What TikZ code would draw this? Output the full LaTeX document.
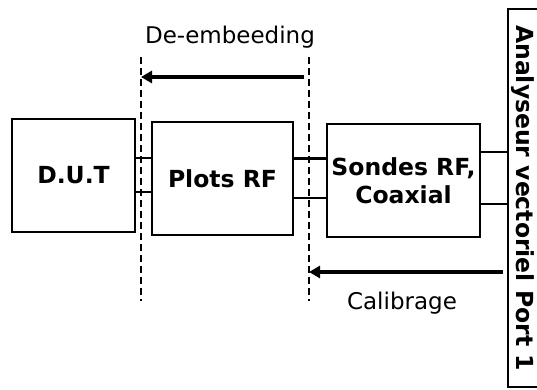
\documentclass[tikz,border=0pt]{standalone}
\usepackage{fontspec}
\setmainfont{DejaVu Sans}
\usetikzlibrary{arrows.meta,positioning,calc}
\tikzset{
  blockbox/.style={draw=black,line width=2.6pt,fill=white,align=center,inner sep=0pt,font=\fontsize{23.5}{28}\selectfont\bfseries},
  link/.style={line width=2.4pt},
  refline/.style={line width=2.4pt,dash pattern=on 7pt off 4pt},
  shiftarrow/.style={-{Triangle[length=11pt,width=12pt]},line width=4.5pt},
  lab/.style={font=\fontsize{23}{28}\selectfont,inner sep=0pt}
}
\begin{document}
\begin{tikzpicture}[x=1pt,y=-1pt]
  \useasboundingbox (0,0) rectangle (537,389);
  \node[blockbox,minimum width=123pt,minimum height=113pt] (dut) at (73.5,175.5) {D.U.T};
  \node[blockbox,minimum width=141pt,minimum height=113pt] (plots) at (222.5,178.5) {Plots RF};
  \node[blockbox,minimum width=153pt,minimum height=113pt] (sondes) at (403.5,180.5) {Sondes RF,\\Coaxial};
  \node[blockbox,minimum width=37pt,minimum height=378pt] (vna) at (526.5,198) {};
  \node[lab,font=\fontsize{23.5}{28}\selectfont\bfseries,rotate=-90] (vnalab) at (523,198) {Analyseur vectoriel Port 1};
  \draw[link] ([yshift=17.5pt]dut.east) -- ([yshift=17.5pt]dut.east -| plots.west);
  \draw[link] ([yshift=-16.5pt]dut.east) -- ([yshift=-16.5pt]dut.east -| plots.west);
  \draw[link] ([yshift=20pt]plots.east) -- ([yshift=20pt]plots.east -| sondes.west);
  \draw[link] ([yshift=-19.5pt]plots.east) -- ([yshift=-19.5pt]plots.east -| sondes.west);
  \draw[link] ([yshift=28.5pt]sondes.east) -- ([yshift=28.5pt]sondes.east -| vna.west);
  \draw[link] ([yshift=-23.5pt]sondes.east) -- ([yshift=-23.5pt]sondes.east -| vna.west);
  \coordinate (cutdut top) at (141,57);
  \coordinate (cutdut bot) at (141,301);
  \coordinate (cutplots top) at (309,57);
  \coordinate (cutplots bot) at (309,301);
  \draw[refline] (cutdut top) -- (cutdut bot);
  \draw[refline] (cutplots top) -- (cutplots bot);
  \coordinate (deemb) at (304,77);
  \coordinate (calib) at (503,272);
  \draw[shiftarrow] (deemb) -- (deemb -| cutdut top);
  \draw[shiftarrow] (calib) -- (calib -| cutplots top);
  \node[lab,anchor=base] (deemblab) at (230,43) {De-embeeding};
  \node[lab,anchor=base] (caliblab) at (402,309) {Calibrage};
\end{tikzpicture}
\end{document}
